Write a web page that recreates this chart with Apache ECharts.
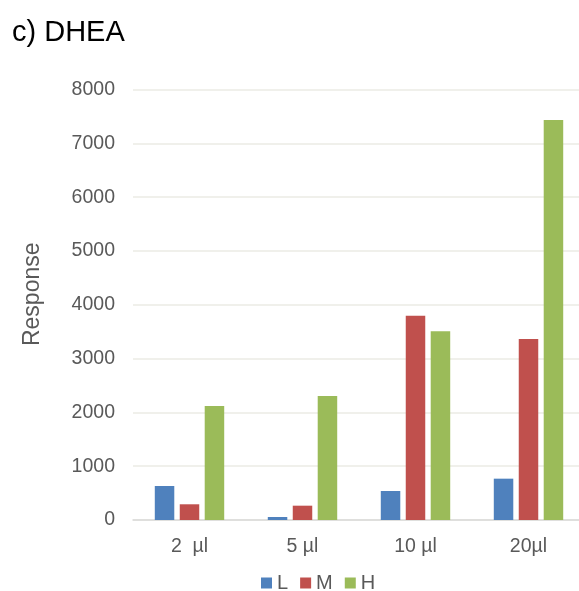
<!DOCTYPE html>
<html>
<head>
<meta charset="utf-8">
<script src="https://cdn.jsdelivr.net/npm/echarts@6/dist/echarts.min.js"></script>
<style>
html,body{margin:0;padding:0;background:#fff;}
#chart{width:579px;height:591px;}
</style>
</head>
<body>
<div id="chart"></div>
<script>
const categories = ['2  µl', '5 µl', '10 µl', '20µl'];
const seriesNames = ['L', 'M', 'H'];
const valuesL = [632, 56, 539, 768];
const valuesM = [292, 266, 3797, 3364];
const valuesH = [2119, 2305, 3507, 7435];
const yTicks = { min: 0, max: 8000, interval: 1000 };
const colors = ['#4f81bd', '#c0504d', '#9bbb59'];

const font = 'Liberation Sans, Arial, sans-serif';
const chart = echarts.init(document.getElementById('chart'), null, { renderer: 'canvas' });
const data = [valuesL, valuesM, valuesH];

chart.setOption({
  animation: false,
  backgroundColor: '#ffffff',
  title: {
    text: 'c) DHEA',
    left: 7, top: 13,
    textStyle: { fontFamily: font, fontSize: 29, fontWeight: 'normal', color: '#000000' }
  },
  grid: { left: 133, top: 89.5, width: 452, bottom: 71, containLabel: false, outerBoundsMode: 'none' },
  legend: {
    data: seriesNames,
    left: 261, top: 573, padding: 0,
    itemWidth: 11, itemHeight: 11, itemGap: 12,
    icon: 'rect',
    textStyle: { fontFamily: font, fontSize: 20, color: '#595959' }
  },
  xAxis: {
    type: 'category',
    data: categories,
    axisLine: { show: true, lineStyle: { color: '#d9d9d9', width: 1.5 } },
    axisTick: { show: false },
    axisLabel: { fontFamily: font, fontSize: 19.5, color: '#595959', margin: 17 }
  },
  yAxis: {
    type: 'value',
    min: yTicks.min, max: yTicks.max, interval: yTicks.interval,
    name: 'Response',
    nameLocation: 'middle',
    nameGap: 89,
    nameTextStyle: { fontFamily: font, fontSize: 23, color: '#595959', padding: [0, 0, 0, 21] },
    axisLine: { show: false },
    axisTick: { show: false },
    axisLabel: { fontFamily: font, fontSize: 19.5, color: '#595959', margin: 18, formatter: v => String(v) },
    splitLine: { lineStyle: { color: '#ebebe4', width: 1.5 } }
  },
  series: seriesNames.map((n, i) => ({
    name: n,
    type: 'bar',
    data: data[i],
    barWidth: 19.5,
    barGap: '28%',
    itemStyle: { color: colors[i] }
  }))
});
</script>
</body>
</html>
